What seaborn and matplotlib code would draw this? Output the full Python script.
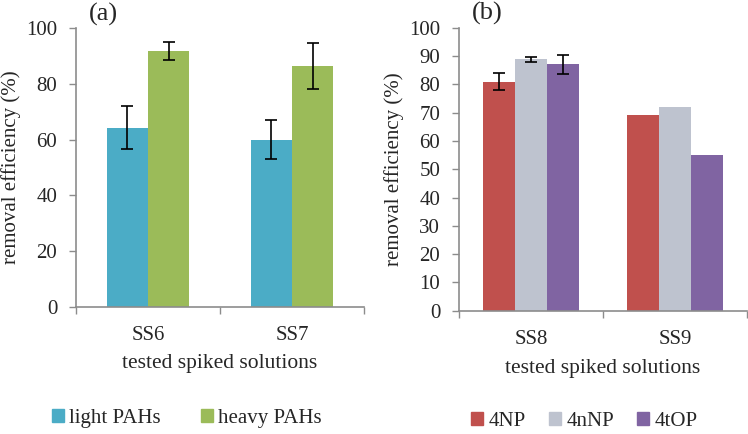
import pandas as pd
import matplotlib.pyplot as plt
import matplotlib.patches as mpatches
import seaborn as sns

# panel (a): PAHs
cats_a = ["SS6", "SS7"]
groups_a = ["light PAHs", "heavy PAHs"]
light_pahs = [64.3, 60.0]
heavy_pahs = [91.6, 86.4]
light_err = [7.8, 7.1]
heavy_err = [3.2, 8.2]

# panel (b): alkylphenols
cats_b = ["SS8", "SS9"]
groups_b = ["4NP", "4nNP", "4tOP"]
np4 = [81.0, 69.0]
nnp4 = [88.8, 72.0]
top4 = [87.1, 55.0]
np4_err = [3.1, None]
nnp4_err = [1.0, None]
top4_err = [3.4, None]

colors_a = ["#4BACC6", "#9BBB59"]
colors_b = ["#C0504D", "#BEC3CF", "#8064A2"]
axis_gray = "#8c8c8c"

sns.set_theme(style="white")
plt.rcParams["font.family"] = ["Liberation Serif", "DejaVu Serif"]


def long_table(cats, groups, values):
    rows = []
    for g, vals in zip(groups, values):
        for c, v in zip(cats, vals):
            rows.append({"solution": c, "compound": g, "eff": v})
    return pd.DataFrame(rows)


def draw_panel(ax, cats, groups, values, errs, colors, width, yticks, tag,
               leg_xy, colspace):
    df = long_table(cats, groups, values)
    sns.barplot(data=df, x="solution", y="eff", hue="compound", order=cats,
                hue_order=groups, palette=colors, saturation=1, width=width,
                gap=0, linewidth=0, errorbar=None, legend=False, ax=ax)
    # error bars at the bar centres seaborn placed
    for cont, err in zip(ax.containers, errs):
        for bar, e in zip(cont, err):
            if e is None:
                continue
            xc = bar.get_x() + bar.get_width() / 2
            ax.errorbar(xc, bar.get_height(), yerr=e, fmt="none",
                        ecolor="black", elinewidth=1.2, capsize=4.5,
                        capthick=1.2)
    ax.set_xlim(-0.5, len(cats) - 0.5)
    ax.set_ylim(0, 100)
    ax.set_yticks(yticks)
    ax.set_xticks([-0.5, 0.5, 1.5], minor=True)
    ax.tick_params(axis="x", which="major", length=0, labelsize=15, pad=14)
    ax.tick_params(axis="x", which="minor", length=5, width=1,
                   color=axis_gray, direction="out", bottom=True)
    ax.tick_params(axis="y", length=5, width=1, color=axis_gray,
                   direction="out", left=True, labelsize=15, pad=8.5)
    sns.despine(ax=ax)
    for s in ["left", "bottom"]:
        ax.spines[s].set_color(axis_gray)
        ax.spines[s].set_linewidth(1.2)
    ax.set_xlabel("tested spiked solutions", fontsize=15.5)
    ax.xaxis.set_label_coords(0.5, -0.17)
    ax.set_ylabel("removal efficiency (%)", fontsize=15)
    ax.yaxis.set_label_coords(-0.19, 0.5)
    ax.text(0.045, 1.05, tag, transform=ax.transAxes, fontsize=19,
            ha="left", va="center")
    handles = [mpatches.Patch(color=c, label=g) for g, c in zip(groups, colors)]
    ax.legend(handles=handles, loc="center", bbox_to_anchor=leg_xy,
              ncol=len(groups), frameon=False, fontsize=15,
              handlelength=0.6, handleheight=0.6, handletextpad=0.25,
              columnspacing=colspace)


fig = plt.figure(figsize=(7.48, 4.34), dpi=100)
ax_a = fig.add_axes([0.1016, 0.2926, 0.385, 0.643])
ax_b = fig.add_axes([0.6136, 0.2840, 0.385, 0.652])

draw_panel(ax_a, cats_a, groups_a, [light_pahs, heavy_pahs],
           [light_err, heavy_err], colors_a, 0.57, range(0, 101, 20), "(a)",
           (0.385, -0.4), 1.9)
draw_panel(ax_b, cats_b, groups_b, [np4, nnp4, top4],
           [np4_err, nnp4_err, top4_err], colors_b, 0.667,
           range(0, 101, 10), "(b)", (0.435, -0.392), 1.1)

fig.savefig("out.png", dpi=100)
plt.close(fig)
